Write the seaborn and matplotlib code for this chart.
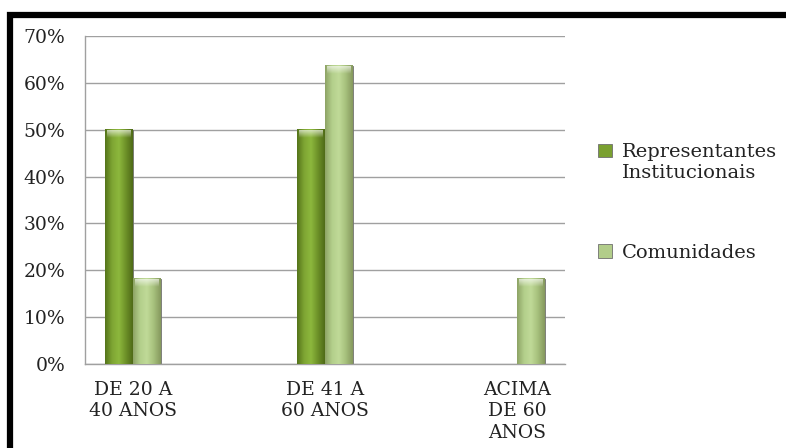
import numpy as np
import pandas as pd
import seaborn as sns
import matplotlib.pyplot as plt
from matplotlib.patches import Rectangle, Patch
from matplotlib.colors import LinearSegmentedColormap
from matplotlib.ticker import PercentFormatter
from matplotlib.legend_handler import HandlerPatch

# data (percent)
faixas = ["DE 20 A\n40 ANOS", "DE 41 A\n60 ANOS", "ACIMA\nDE 60\nANOS"]
series = ["Representantes\nInstitucionais", "Comunidades"]
representantes = [50.0, 50.0, 0.0]
comunidades = [18.18, 63.64, 18.18]

df = pd.DataFrame({
    "faixa": faixas * 2,
    "grupo": [series[0]] * 3 + [series[1]] * 3,
    "valor": representantes + comunidades,
})

sns.set_theme(style="white")
plt.rcParams["font.family"] = ["DejaVu Serif"]

dark = "#7aa030"
light = "#b2cd8a"
cores = {series[0]: dark, series[1]: light}

fig = plt.figure(figsize=(7.86, 4.48), dpi=100)
ax = fig.add_axes([0.108, 0.1875, 0.611, 0.7321])

sns.barplot(data=df, x="faixa", y="valor", hue="grupo", palette=cores,
            width=0.29, saturation=1, ax=ax, legend=False)

# cylinder-like shading on each bar
grad = {
    dark: LinearSegmentedColormap.from_list("d", ["#55741a", "#7ea533", "#8db83d", "#6d9128", "#4f6b18"]),
    light: LinearSegmentedColormap.from_list("l", ["#8ea466", "#b3cf8b", "#c0da98", "#a6c07c", "#86995e"]),
}
capc = LinearSegmentedColormap.from_list("c", ["#ffffff00", "#ffffffa0"])
prof = np.linspace(0, 1, 64)[None, :]
for bar in list(ax.patches):
    h = bar.get_height()
    if h <= 0:
        continue
    fc = bar.get_facecolor()
    key = dark if abs(fc[0] - 0x7a / 255) < 0.02 else light
    x0, w = bar.get_x(), bar.get_width()
    ax.imshow(prof, cmap=grad[key], extent=(x0, x0 + w, 0, h),
              aspect="auto", zorder=3, origin="lower")
    cap = min(1.7, h)
    ax.imshow(np.linspace(0, 1, 16)[:, None], cmap=capc,
              extent=(x0 + w * 0.08, x0 + w * 0.92, h - cap, h),
              aspect="auto", zorder=4, origin="lower")
    bar.set_edgecolor("#6f6f6f")
    bar.set_linewidth(0.6)
    bar.set_zorder(2)

ax.set_xlim(-0.25, 2.25)
ax.set_ylim(0, 70)
ax.set_yticks(range(0, 71, 10))
ax.yaxis.set_major_formatter(PercentFormatter(decimals=0))
ax.grid(axis="y", color="#a0a0a0", linewidth=1)
ax.set_axisbelow(True)
ax.set_xlabel("")
ax.set_ylabel("")
for s in ["top", "right"]:
    ax.spines[s].set_visible(False)
for s in ["left", "bottom"]:
    ax.spines[s].set_color("#a0a0a0")
    ax.spines[s].set_linewidth(1)
ax.tick_params(axis="y", length=0, pad=14, labelsize=13.5, colors="#222222")
ax.tick_params(axis="x", length=0, pad=12, labelsize=13.5, colors="#222222")
for t in ax.get_xticklabels():
    t.set_linespacing(1.25)


# legend marker sits beside the first line of a two-line label
def top_square(legend, orig_handle, xdescent, ydescent, width, height, fontsize):
    lines = orig_handle.get_label().count("\n")
    dy = lines * fontsize * 0.62
    return Rectangle((-xdescent, -ydescent + dy), width, height)


handles = [Patch(facecolor=dark, edgecolor="#6f6f6f", linewidth=0.6, label=series[0]),
           Patch(facecolor=light, edgecolor="#6f6f6f", linewidth=0.6, label=series[1])]
fig.legend(handles, series, loc="upper left", bbox_to_anchor=(0.739, 0.72),
           frameon=False, fontsize=14, handlelength=0.7, handleheight=0.7,
           handletextpad=0.5, labelspacing=3.2, labelcolor="#222222",
           handler_map={Patch: HandlerPatch(patch_func=top_square)})

# black frame round the chart (cut at the right and bottom edge)
fig.patches.append(Rectangle((10 / 786, -0.2), 1.2, 1.2 - 15 / 448,
                             transform=fig.transFigure, fill=False,
                             edgecolor="black", linewidth=4.5, zorder=10))

fig.savefig("out.png", dpi=100)
